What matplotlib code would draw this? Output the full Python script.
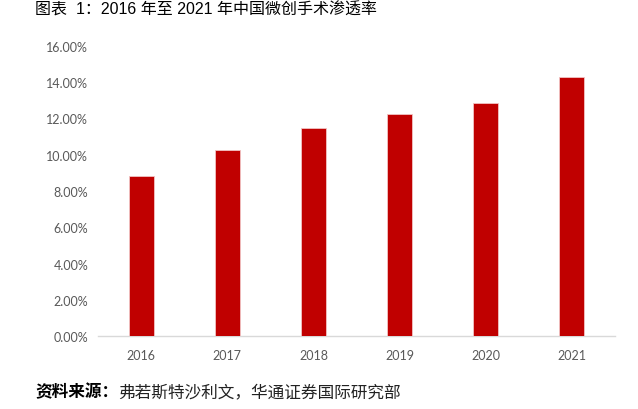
import numpy as np
import matplotlib.pyplot as plt
from matplotlib.ticker import PercentFormatter

plt.rcParams['font.family'] = ['Liberation Sans', 'Noto Sans CJK SC']

# dati
anni = ['2016', '2017', '2018', '2019', '2020', '2021']
penetrazione = [8.83, 10.24, 11.45, 12.26, 12.86, 14.29]
y_ticks = [0, 2, 4, 6, 8, 10, 12, 14, 16]

fig = plt.figure(figsize=(6.38, 4.10), dpi=100)
ax = fig.add_axes([0.1536, 0.1773, 0.8104, 0.7087])

x = np.arange(len(anni))
ax.bar(x, penetrazione, width=0.29, color='#C00000', edgecolor='#F2C4C4', linewidth=0.6, zorder=3)

ax.set_xlim(-0.5, len(anni) - 0.5)
ax.set_ylim(0, 16)
ax.set_yticks(y_ticks)
ax.yaxis.set_major_formatter(PercentFormatter(decimals=2))
ax.set_xticks(x)
ax.set_xticklabels(anni)

for lab in ax.get_xticklabels() + ax.get_yticklabels():
    lab.set_family(['Lato', 'DejaVu Sans'])
    lab.set_fontsize(9)
    lab.set_color('#595959')

ax.tick_params(axis='both', length=0)
ax.tick_params(axis='y', pad=7)
ax.tick_params(axis='x', pad=9)

for s in ['top', 'right', 'left']:
    ax.spines[s].set_visible(False)
ax.spines['bottom'].set_color('#D9D9D9')
ax.spines['bottom'].set_linewidth(1.0)

# titolo e fonte
fig.text(0.055, 0.975, '图表  1：2016 年至 2021 年中国微创手术渗透率', fontsize=11.5,
         ha='left', va='center', color='black')
fig.text(0.055, 0.044, '资料来源：', fontsize=12, fontweight='bold',
         ha='left', va='center', color='black')
fig.text(0.185, 0.044, '弗若斯特沙利文，华通证券国际研究部', fontsize=12,
         ha='left', va='center', color='#222222')

fig.savefig('out.png', dpi=100)
